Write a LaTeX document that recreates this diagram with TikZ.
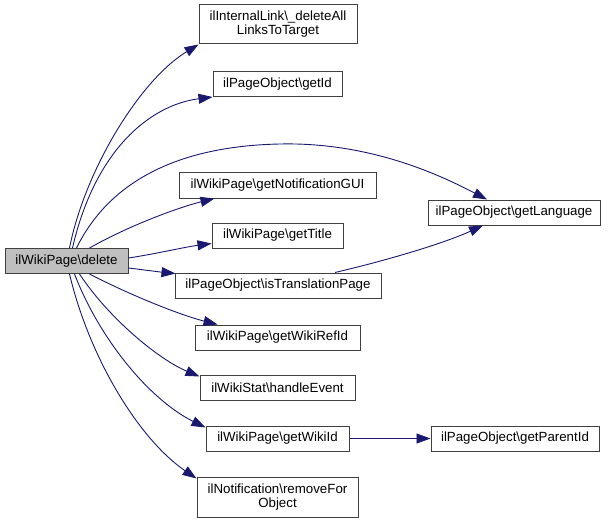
\documentclass[tikz,border=0pt]{standalone}
\usepackage{fontspec}
\setmainfont{Liberation Sans}
\usetikzlibrary{arrows.meta}
\definecolor{edgeblue}{HTML}{191970}
\definecolor{boxline}{HTML}{404040}
\definecolor{curfill}{HTML}{BFBFBF}
\begin{document}
\begin{tikzpicture}[x=1pt,y=-1pt,
  fn/.style={draw=boxline,line width=1pt,fill=white,inner sep=0pt,align=center,
    font=\fontsize{13.3}{14}\selectfont,minimum height=25pt},
  cur/.style={fn,fill=curfill},
  call/.style={draw=edgeblue,line width=0.9pt,-{Triangle[length=14pt,width=10pt]}}]
\useasboundingbox (0,0) rectangle (608,524);
\node[cur,minimum width=123pt] (del) at (66.5,261) {ilWikiPage\textbackslash delete};
\node[fn,minimum width=158pt,minimum height=39pt] (dall) at (278,24.5) {ilInternalLink\textbackslash\_deleteAll\\LinksToTarget};
\node[fn,minimum width=129pt] (gid) at (277.5,84) {ilPageObject\textbackslash getId};
\node[fn,minimum width=197pt] (gng) at (277.5,185.5) {ilWikiPage\textbackslash getNotificationGUI};
\node[fn,minimum width=131pt] (gtt) at (277.5,235.5) {ilWikiPage\textbackslash getTitle};
\node[fn,minimum width=206pt] (itp) at (278,285.5) {ilPageObject\textbackslash isTranslationPage};
\node[fn,minimum width=165pt] (gwr) at (277.5,337.5) {ilWikiPage\textbackslash getWikiRefId};
\node[fn,minimum width=155pt] (hev) at (277.5,387.5) {ilWikiStat\textbackslash handleEvent};
\node[fn,minimum width=143pt] (gwi) at (277.5,438.5) {ilWikiPage\textbackslash getWikiId};
\node[fn,minimum width=161pt,minimum height=40pt] (rfo) at (277.5,497) {ilNotification\textbackslash removeFor\\Object};
\node[fn,minimum width=172pt] (gln) at (514,212.5) {ilPageObject\textbackslash getLanguage};
\node[fn,minimum width=168pt] (gpi) at (515,438.5) {ilPageObject\textbackslash getParentId};

\draw[call] ([xshift=65pt]del.north west) .. controls (85,170) and (140,80) .. (dall.south west);
\draw[call] ([xshift=68pt]del.north west) .. controls (95,150) and (150,105) .. (gid.south west);
\draw[call] ([xshift=72pt]del.north west) .. controls (110,180) and (180,146) .. (280,144)
   .. controls (370,142) and (440,175) .. ([xshift=-27pt]gln.north);
\draw[call] ([xshift=85pt]del.north west) .. controls (130,225) and (180,207) .. ([xshift=36pt]gng.south west);
\draw[call] ([yshift=3pt]del.east) .. controls (155,254) and (185,247) .. ([yshift=-8pt]gtt.west);
\draw[call] ([yshift=-7pt]del.east) .. controls (145,270) and (160,272) .. ([xshift=1pt,yshift=-1pt]itp.north west);
\draw[call] ([xshift=85pt]del.south west) .. controls (130,295) and (180,315) .. ([xshift=23pt]gwr.north west);
\draw[call] ([xshift=75pt]del.south west) .. controls (110,320) and (160,360) .. ([yshift=-2pt]hev.north west);
\draw[call] ([xshift=70pt]del.south west) .. controls (100,340) and (150,400) .. ([yshift=-2pt]gwi.north west);
\draw[call] ([xshift=65pt]del.south west) .. controls (90,360) and (140,440) .. ([yshift=-2pt]rfo.north west);
\draw[call] ([xshift=57pt]itp.north) .. controls (380,262) and (440,245) .. ([xshift=-31pt]gln.south);
\draw[call] (gwi.east) -- (gpi.west);
\end{tikzpicture}
\end{document}
